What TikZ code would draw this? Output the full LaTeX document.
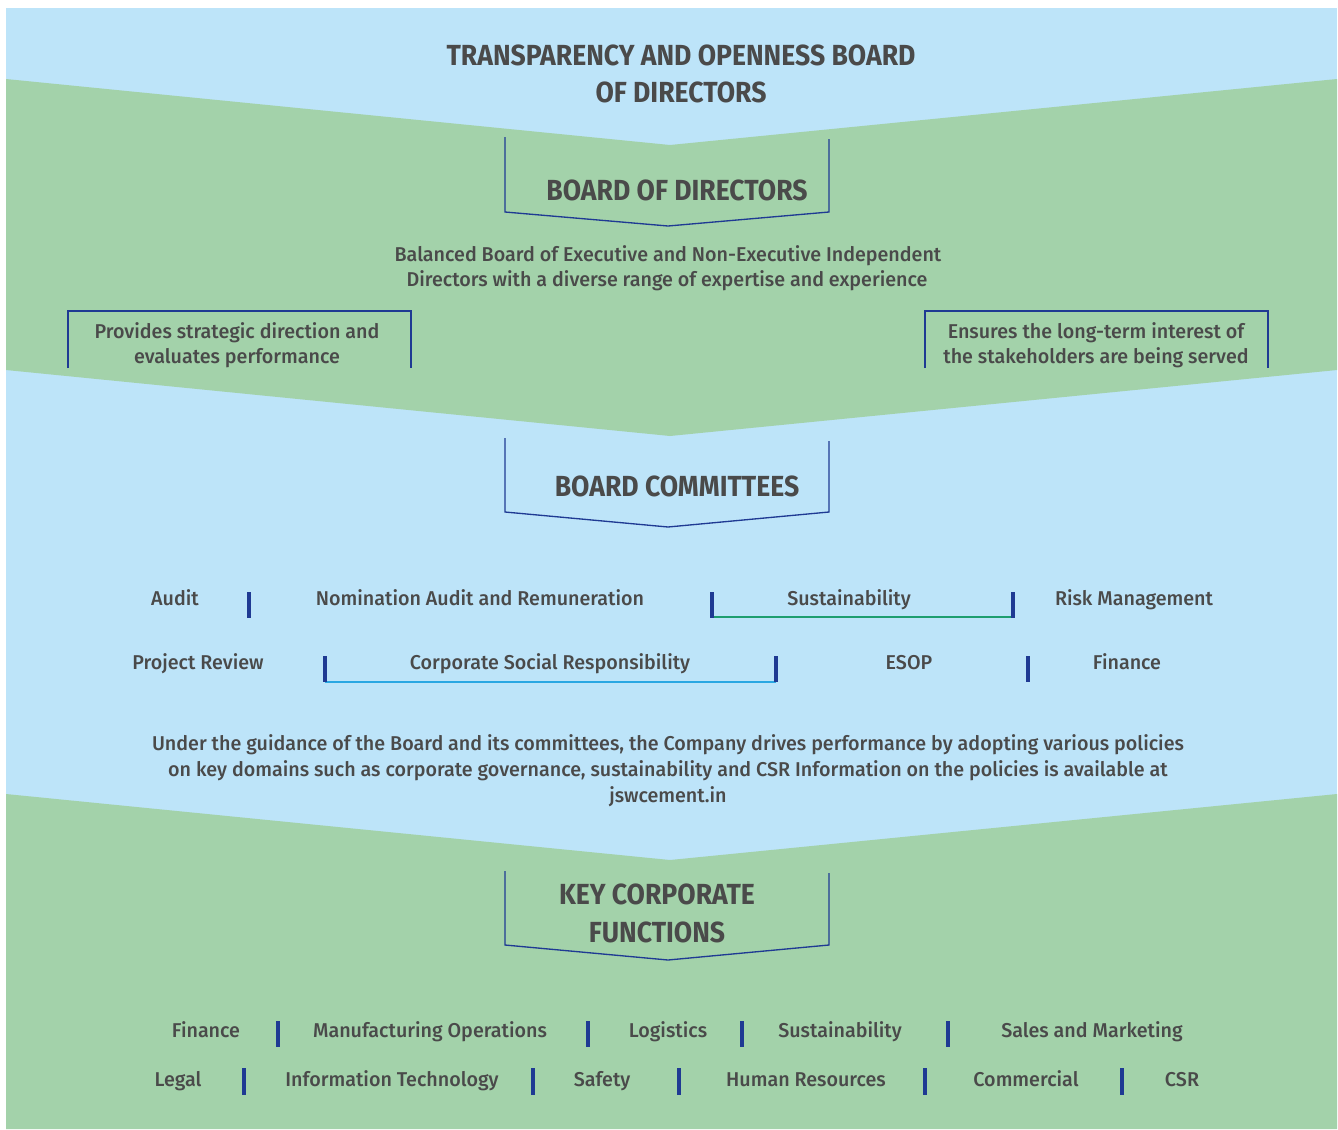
\documentclass[tikz,border=0pt]{standalone}
\usepackage{fontspec}
\setmainfont{Fira Sans}[UprightFont=* Medium, FakeStretch=0.985]
\newfontfamily\headfont{Fira Sans}[FakeStretch=0.915]
\definecolor{skyb}{HTML}{BDE4F9}
\definecolor{leaf}{HTML}{A3D2AA}
\definecolor{ink}{HTML}{4A4A4A}
\definecolor{navy}{HTML}{1F3A93}
\definecolor{greenline}{HTML}{1E9E70}
\definecolor{cyanline}{HTML}{2AA7E2}
\begin{document}
\begin{tikzpicture}[x=0.75pt,y=-0.75pt,
  head/.style={text=ink, font=\headfont\bfseries\fontsize{21.8}{26}\selectfont, inner sep=0, anchor=base},
  body/.style={text=ink, font=\fontsize{15}{18}\selectfont, inner sep=0, anchor=base},
  frame/.style={draw=navy, line width=1pt, line join=miter},
  sepbar/.style={draw=navy, line width=3pt},
  gline/.style={draw=greenline, line width=1.4pt},
  cline/.style={draw=cyanline, line width=1.4pt}]
\useasboundingbox (0,0) rectangle (1338,1129);
\fill[white] (0,0) rectangle (1338,1129);
% bands
\fill[skyb] (6,8) rectangle (1337,1129);
\fill[leaf] (6,79) -- (670,145) -- (1337,79) -- (1337,370) -- (670,436) -- (6,370) -- cycle;
\fill[leaf] (6,794) -- (670,860) -- (1337,794) -- (1337,1129) -- (6,1129) -- cycle;
% title
\node[head] (t1) at (681,65) {TRANSPARENCY AND OPENNESS BOARD};
\node[head] (t2) at (681,102) {OF DIRECTORS};
% board of directors
\draw[frame] (505,137) -- (505,212) -- (668,226) -- (829,212) -- (829,139);
\node[head] (bod) at (677,200) {BOARD OF DIRECTORS};
\node[body] (bal1) at (668,261) {Balanced Board of Executive and Non-Executive Independent};
\node[body] (bal2) at (667,286) {Directors with a diverse range of expertise and experience};
% side boxes
\draw[frame] (68,368) -- (68,311) -- (411,311) -- (411,368);
\node[body] (l1) at (237,338) {Provides strategic direction and};
\node[body] (l2) at (237,363) {evaluates performance};
\draw[frame] (925,368) -- (925,311) -- (1268,311) -- (1268,368);
\node[body] (r1) at (1096,338) {Ensures the long-term interest of};
\node[body] (r2) at (1096,363) {the stakeholders are being served};
% board committees
\draw[frame] (505,438) -- (505,512) -- (668,527) -- (829,512) -- (829,441);
\node[head] (bc) at (677,496) {BOARD COMMITTEES};
% committees row 1
\node[body] (c1) at (175,605) {Audit};
\draw[sepbar] (249,592) -- (249,618);
\node[body] (c2) at (480,605) {Nomination Audit and Remuneration};
\draw[gline] (712,617) -- (1013,617);
\draw[sepbar] (712,592) -- (712,618);
\node[body] (c3) at (849,605) {Sustainability};
\draw[sepbar] (1013,592) -- (1013,618);
\node[body] (c4) at (1134,605) {Risk Management};
% committees row 2
\node[body] (c5) at (198,669) {Project Review};
\draw[cline] (325,682) -- (776,682);
\draw[sepbar] (325,656) -- (325,682);
\node[body] (c6) at (550,669) {Corporate Social Responsibility};
\draw[sepbar] (776,656) -- (776,682);
\node[body] (c7) at (909,669) {ESOP};
\draw[sepbar] (1028,656) -- (1028,682);
\node[body] (c8) at (1127,669) {Finance};
% paragraph
\node[body] (p1) at (668,750) {Under the guidance of the Board and its committees, the Company drives performance by adopting various policies};
\node[body] (p2) at (668,776) {on key domains such as corporate governance, sustainability and CSR Information on the policies is available at};
\node[body] (p3) at (668,802) {jswcement.in};
% key corporate functions
\draw[frame] (505,871) -- (505,945) -- (668,960) -- (829,945) -- (829,873);
\node[head] (k1) at (657,904) {KEY CORPORATE};
\node[head] (k2) at (657,942) {FUNCTIONS};
% functions row 1
\node[body] (f1) at (206,1037) {Finance};
\draw[sepbar] (278,1021) -- (278,1047);
\node[body] (f2) at (430,1037) {Manufacturing Operations};
\draw[sepbar] (588,1021) -- (588,1047);
\node[body] (f3) at (668,1037) {Logistics};
\draw[sepbar] (742,1021) -- (742,1047);
\node[body] (f4) at (840,1037) {Sustainability};
\draw[sepbar] (948,1021) -- (948,1047);
\node[body] (f5) at (1092,1037) {Sales and Marketing};
% functions row 2
\node[body] (g1) at (178,1086) {Legal};
\draw[sepbar] (244,1068) -- (244,1095);
\node[body] (g2) at (392,1086) {Information Technology};
\draw[sepbar] (533,1068) -- (533,1095);
\node[body] (g3) at (602,1086) {Safety};
\draw[sepbar] (679,1068) -- (679,1095);
\node[body] (g4) at (806,1086) {Human Resources};
\draw[sepbar] (925,1068) -- (925,1095);
\node[body] (g5) at (1026,1086) {Commercial};
\draw[sepbar] (1122,1068) -- (1122,1095);
\node[body] (g6) at (1182,1086) {CSR};
\end{tikzpicture}
\end{document}
